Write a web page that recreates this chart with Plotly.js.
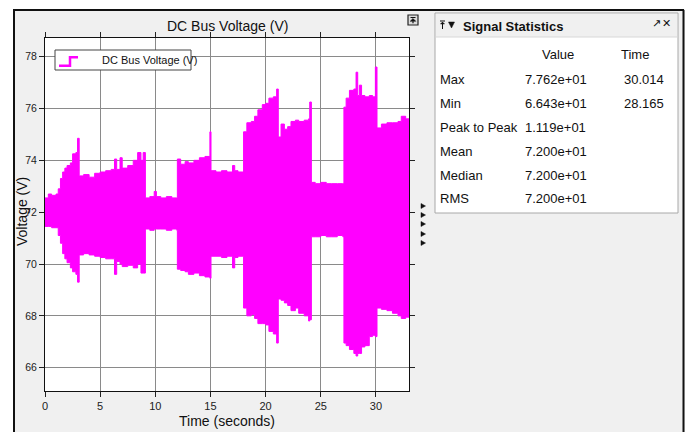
<!DOCTYPE html>
<html>
<head>
<meta charset="utf-8">
<script src="https://cdn.plot.ly/plotly-3.0.1.min.js"></script>
<style>html,body{margin:0;padding:0;background:#fff;}#chart{width:689px;height:432px;}</style>
</head>
<body>
<div id="chart"></div>
<script>
// ---- data (envelope of the dense DC bus voltage signal) ----
const timeS = [0,0.3,0.6,1.0,1.2,1.4,1.6,1.8,2.0,2.3,2.5,2.8,2.95,3.1,
  3.5,4.0,4.5,5.0,5.5,6.0,6.3,6.5,6.8,7.0,7.5,8.0,8.4,8.7,8.9,9.1,
  9.5,9.9,10.1,10.5,11.0,11.5,11.95,
  12.0,12.3,12.7,13.0,13.5,14.0,14.5,14.95,
  15.05,15.5,16.0,16.5,17.0,17.2,17.5,17.95,
  18.0,18.3,18.7,19.0,19.3,19.7,20.0,20.3,20.7,21.0,21.15,
  21.4,21.7,22.0,22.3,22.7,23.0,23.5,23.9,24.0,24.15,
  24.5,25.0,25.5,26.0,26.5,27.0,
  27.1,27.3,27.6,28.0,28.2,28.35,28.5,28.7,29.0,29.4,29.7,29.95,30.1,
  30.5,31.0,31.5,32.0,32.3,32.7,33.0];
const upperV = [72.55,72.7,72.65,72.7,72.9,73.3,73.55,73.7,73.8,73.9,74.25,74.3,74.85,73.4,
  73.45,73.35,73.5,73.55,73.6,73.65,74.05,73.65,74.1,73.7,73.8,74.0,74.3,74.0,74.3,72.55,
  72.6,72.8,72.6,72.55,72.6,72.55,72.55,
  74.05,73.85,73.95,73.9,74.0,74.1,74.15,75.1,
  73.6,73.55,73.6,73.55,73.8,73.6,73.55,73.55,
  75.1,75.45,75.5,75.7,75.95,76.15,76.2,76.4,76.45,76.75,74.9,
  75.4,75.2,75.3,75.5,75.55,75.5,75.55,75.6,76.25,73.15,
  73.1,73.15,73.1,73.1,73.1,73.1,
  76.05,76.4,76.7,76.75,77.4,76.5,76.9,76.5,76.45,76.5,76.45,77.6,75.25,
  75.4,75.45,75.45,75.5,75.7,75.6,75.45];
const lowerV = [71.45,71.45,71.4,71.4,71.1,70.8,70.4,70.2,70.05,69.85,69.7,69.6,69.3,70.35,
  70.4,70.35,70.3,70.25,70.2,70.2,69.6,70.1,70.0,69.9,69.95,69.85,70.0,69.65,69.65,71.35,
  71.3,71.35,71.35,71.35,71.3,71.35,71.3,
  69.8,69.75,69.7,69.6,69.65,69.55,69.5,69.45,
  70.3,70.3,70.25,70.3,69.85,70.25,70.3,70.3,
  68.3,68.0,68.05,67.9,67.7,67.7,67.65,67.4,67.3,66.95,68.65,
  68.6,68.5,68.4,68.2,68.3,68.1,68.0,67.8,67.85,71.05,
  71.05,71.1,71.05,71.05,71.1,71.05,
  66.95,66.85,66.7,66.55,66.45,66.55,66.55,66.8,66.85,67.2,67.25,67.2,68.3,
  68.25,68.2,68.1,68.0,67.9,67.95,67.95];
const xTicks = [0,5,10,15,20,25,30];
const yTicks = [66,68,70,72,74,76,78];
const seriesName = "DC Bus Voltage (V)";
const statLabels = ["Max","Min","Peak to Peak","Mean","Median","RMS"];
const statValues = ["7.762e+01","6.643e+01","1.119e+01","7.200e+01","7.200e+01","7.200e+01"];
const statTimes = ["30.014","28.165","","","",""];

// ---- layout helpers (pixel -> paper) ----
const W = 689, H = 432, L = 45, R = 409, T = 38, B = 391;
const px = x => (x - L) / (R - L);
const py = y => (B - y) / (B - T);
const FONT = "Liberation Sans, Arial, sans-serif";
const MAG = "#ff00ff";

function rect(x0, y0, x1, y1, fill, line, lw, layer) {
  return {type: "rect", xref: "paper", yref: "paper", x0: px(x0), x1: px(x1), y0: py(y0), y1: py(y1),
    fillcolor: fill, line: {color: line || fill, width: lw === undefined ? 0 : lw}, layer: layer || "above"};
}
function path(pts, close, fill, line, lw) {
  let d = pts.map((p, i) => (i ? "L" : "M") + px(p[0]) + "," + py(p[1])).join(" ") + (close ? " Z" : "");
  return {type: "path", xref: "paper", yref: "paper", path: d, fillcolor: fill || "rgba(0,0,0,0)",
    line: {color: line || "rgba(0,0,0,0)", width: lw || 0}, layer: "above"};
}
function text(t, x, y, size, anchor, opts) {
  return Object.assign({text: t, xref: "paper", yref: "paper", x: px(x), y: py(y), showarrow: false,
    xanchor: anchor || "left", yanchor: "middle", font: {family: FONT, size: size, color: "#111"}}, opts || {});
}

const traces = [
  {x: timeS, y: lowerV, type: "scatter", mode: "lines", line: {color: MAG, width: 1, shape: "hv"},
   showlegend: false, hoverinfo: "skip", name: seriesName},
  {x: timeS, y: upperV, type: "scatter", mode: "lines", line: {color: MAG, width: 1, shape: "hv"},
   fill: "tonexty", fillcolor: MAG, showlegend: false, hoverinfo: "skip", name: seriesName}
];

const shapes = [
  // white outside frame
  rect(0, 0, W, 9, "#ffffff", null, 0, "below"),
  rect(0, 0, 13, H, "#ffffff", null, 0, "below"),
  rect(685, 0, W, H, "#ffffff", null, 0, "below"),
  // frame lines
  path([[13, 10], [684, 10]], false, null, "#111", 2),
  path([[14, 10], [14, H]], false, null, "#111", 2),
  path([[683.5, 10], [683.5, H]], false, null, "#111", 2),
  // legend box
  rect(55, 50, 191, 70, "#ffffff", "#444", 1),
  path([[59, 65.7], [70, 65.7], [70, 57.3], [78, 57.3]], false, null, MAG, 2.5),
  // small icon above plot
  rect(408, 15, 418, 25, "#dcdcdc", "#222", 1.2),
  path([[410.5, 17.5], [415.5, 17.5]], false, null, "#111", 1),
  path([[413, 18.5], [415.8, 21.3], [410.2, 21.3]], true, "#111", "#111", 0.5),
  path([[413, 21.3], [413, 23.3]], false, null, "#111", 1.2),
  // statistics panel
  rect(435, 13, 678, 213, "#ffffff", "#a8a8a8", 1),
  rect(436, 14, 677, 37, "#f0f0f0", "#f0f0f0", 0),
  path([[436, 37], [677, 37]], false, null, "#d8d8d8", 1),
  // header pin icon + down arrow
  path([[440, 21], [445, 21]], false, null, "#111", 1),
  path([[442.5, 22.5], [442.5, 29]], false, null, "#111", 1),
  path([[440.5, 24], [444.5, 24], [442.5, 22]], true, "#111", "#111", 0.5),
  path([[448.5, 22], [454.5, 22], [451.5, 28]], true, "#111", "#111", 0.5)
];
// side triangles
[206, 215, 224, 234, 243].forEach(y => {
  shapes.push(path([[421, y - 2.5], [425.5, y], [421, y + 2.5]], true, "#111", "#111", 0.5));
});

const annotations = [
  text("DC Bus Voltage (V)", 227, 26, 14, "center"),
  text("Voltage (V)", 22, 212, 14, "center", {textangle: -90}),
  text(seriesName, 100, 60.5, 11, "left"),
  text("Signal Statistics", 461, 26, 13, "left", {font: {family: FONT, size: 13, color: "#111", weight: "bold"}}),
  text("\u2197", 650, 24, 11, "left", {font: {family: "DejaVu Sans", size: 11, color: "#111"}}),
  text("\u2715", 660, 24, 11, "left", {font: {family: "DejaVu Sans", size: 11, color: "#111"}}),
  text("Value", 540, 55, 13, "left"),
  text("Time", 619, 55, 13, "left")
];
const rowY = [79, 103, 127, 151, 175, 199];
statLabels.forEach((s, i) => {
  annotations.push(text(s, 438, rowY[i], 13, "left"));
  annotations.push(text(statValues[i], 523, rowY[i], 13, "left"));
  if (statTimes[i]) annotations.push(text(statTimes[i], 622, rowY[i], 13, "left"));
});

const axisCommon = {
  showline: true, linecolor: "#111", linewidth: 1, mirror: "ticks",
  ticks: "outside", ticklen: 5, tickcolor: "#222", tickwidth: 1,
  showgrid: true, gridcolor: "#8a8a8a", gridwidth: 1, zeroline: false,
  tickfont: {family: FONT, size: 11, color: "#222"}, fixedrange: true
};

const layout = {
  width: W, height: H,
  margin: {l: L, r: W - R, t: T, b: H - B, pad: 0},
  paper_bgcolor: "#f0f0f0", plot_bgcolor: "#ffffff",
  showlegend: false,
  xaxis: Object.assign({}, axisCommon, {range: [0, 33], tickvals: xTicks, ticktext: xTicks.map(String),
    title: {text: "Time (seconds)", font: {family: FONT, size: 14, color: "#111"}, standoff: 4}}),
  yaxis: Object.assign({}, axisCommon, {range: [65.1, 78.72], tickvals: yTicks, ticktext: yTicks.map(String),
    ticklabelstandoff: 0, tickfont: {family: FONT, size: 10.5, color: "#222"}}),
  shapes: shapes,
  annotations: annotations
};

Plotly.newPlot("chart", traces, layout, {displayModeBar: false, staticPlot: true});
</script>
</body>
</html>
